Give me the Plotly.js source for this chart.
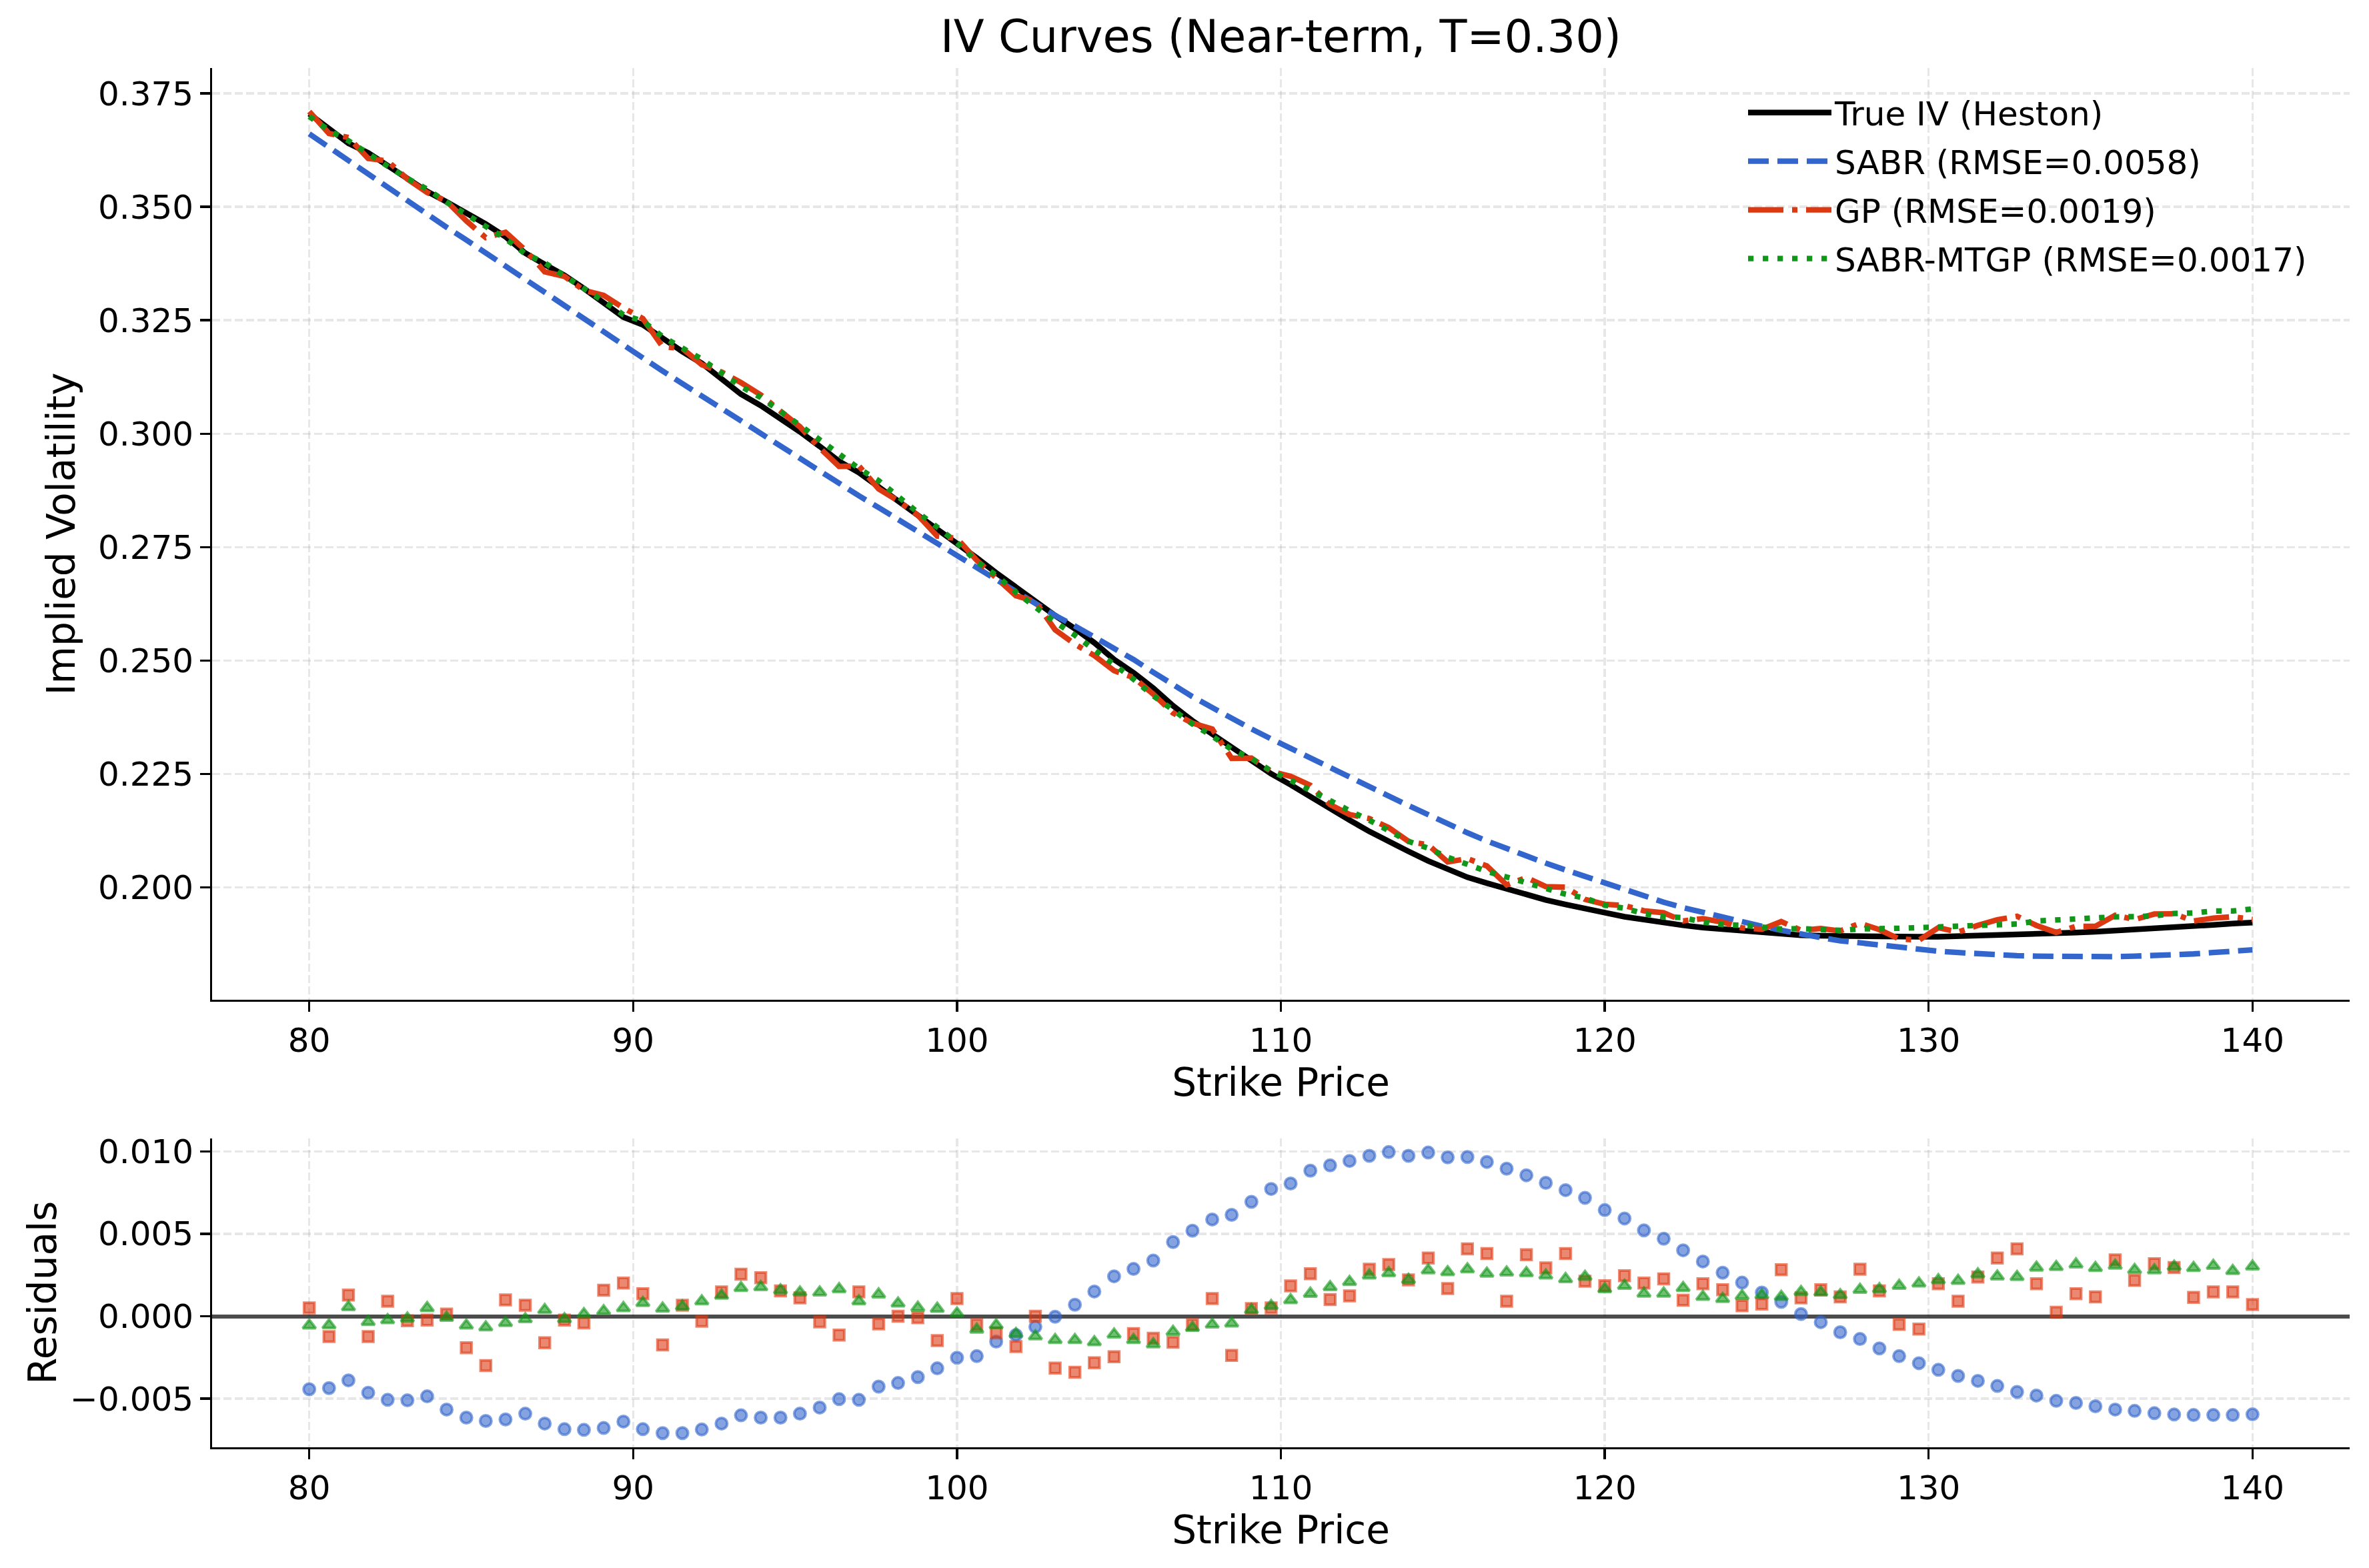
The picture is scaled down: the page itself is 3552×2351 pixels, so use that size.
<!DOCTYPE html>
<html>
<head>
<meta charset="utf-8">
<script src="https://cdn.plot.ly/plotly-3.0.1.min.js"></script>
<style>
  html, body { margin: 0; padding: 0; background: #ffffff; }
  #chart { width: 3552px; height: 2351px; }
</style>
</head>
<body>
<div id="chart"></div>
<script>
// Strike grid (100 evenly spaced strikes from 80 to 140)
const strikes = [
  80.00, 80.61, 81.21, 81.82, 82.42, 83.03, 83.64, 84.24, 84.85, 85.45,
  86.06, 86.67, 87.27, 87.88, 88.48, 89.09, 89.70, 90.30, 90.91, 91.52,
  92.12, 92.73, 93.33, 93.94, 94.55, 95.15, 95.76, 96.36, 96.97, 97.58,
  98.18, 98.79, 99.39, 100.00, 100.61, 101.21, 101.82, 102.42, 103.03, 103.64,
  104.24, 104.85, 105.45, 106.06, 106.67, 107.27, 107.88, 108.48, 109.09, 109.70,
  110.30, 110.91, 111.52, 112.12, 112.73, 113.33, 113.94, 114.55, 115.15, 115.76,
  116.36, 116.97, 117.58, 118.18, 118.79, 119.39, 120.00, 120.61, 121.21, 121.82,
  122.42, 123.03, 123.64, 124.24, 124.85, 125.45, 126.06, 126.67, 127.27, 127.88,
  128.48, 129.09, 129.70, 130.30, 130.91, 131.52, 132.12, 132.73, 133.33, 133.94,
  134.55, 135.15, 135.76, 136.36, 136.97, 137.58, 138.18, 138.79, 139.39, 140.00
];

// Heston reference implied volatility
const trueIV = [
  0.3705, 0.3674, 0.3640, 0.3619, 0.3592, 0.3564, 0.3534, 0.3511, 0.3488, 0.3462,
  0.3434, 0.3398, 0.3373, 0.3349, 0.3320, 0.3289, 0.3257, 0.3240, 0.3209, 0.3181,
  0.3155, 0.3121, 0.3087, 0.3062, 0.3034, 0.3004, 0.2972, 0.2939, 0.2914, 0.2883,
  0.2852, 0.2821, 0.2789, 0.2758, 0.2726, 0.2693, 0.2661, 0.2630, 0.2599, 0.2570,
  0.2539, 0.2502, 0.2473, 0.2439, 0.2400, 0.2367, 0.2338, 0.2308, 0.2280, 0.2250,
  0.2226, 0.2199, 0.2172, 0.2148, 0.2123, 0.2100, 0.2079, 0.2058, 0.2039, 0.2022,
  0.2009, 0.1996, 0.1984, 0.1972, 0.1962, 0.1952, 0.1944, 0.1935, 0.1928, 0.1921,
  0.1916, 0.1911, 0.1907, 0.1904, 0.1900, 0.1896, 0.1894, 0.1893, 0.1892, 0.1892,
  0.1891, 0.1891, 0.1891, 0.1891, 0.1892, 0.1892, 0.1893, 0.1895, 0.1896, 0.1898,
  0.1900, 0.1902, 0.1904, 0.1907, 0.1909, 0.1912, 0.1914, 0.1917, 0.1920, 0.1922
];

// SABR fitted smile
const sabrIV = [
  0.3661, 0.3631, 0.3601, 0.3572, 0.3542, 0.3513, 0.3484, 0.3455, 0.3427, 0.3398,
  0.3370, 0.3341, 0.3312, 0.3282, 0.3253, 0.3224, 0.3195, 0.3167, 0.3138, 0.3110,
  0.3083, 0.3055, 0.3027, 0.3000, 0.2972, 0.2945, 0.2917, 0.2890, 0.2863, 0.2837,
  0.2811, 0.2785, 0.2758, 0.2732, 0.2705, 0.2678, 0.2651, 0.2625, 0.2599, 0.2576,
  0.2552, 0.2527, 0.2502, 0.2474, 0.2446, 0.2420, 0.2396, 0.2372, 0.2349, 0.2327,
  0.2306, 0.2286, 0.2264, 0.2242, 0.2220, 0.2200, 0.2180, 0.2160, 0.2139, 0.2120,
  0.2102, 0.2085, 0.2069, 0.2053, 0.2038, 0.2024, 0.2009, 0.1994, 0.1980, 0.1967,
  0.1955, 0.1944, 0.1933, 0.1923, 0.1914, 0.1905, 0.1896, 0.1889, 0.1882, 0.1877,
  0.1872, 0.1867, 0.1863, 0.1859, 0.1856, 0.1853, 0.1851, 0.1849, 0.1848, 0.1847,
  0.1847, 0.1847, 0.1847, 0.1848, 0.1849, 0.1851, 0.1853, 0.1856, 0.1859, 0.1862
];

// Residuals (model IV minus true IV)
const resSABR = [
  -0.00443, -0.00436, -0.00389, -0.00464, -0.00507, -0.00510, -0.00486, -0.00566, -0.00615, -0.00635,
  -0.00626, -0.00591, -0.00651, -0.00685, -0.00689, -0.00678, -0.00639, -0.00685, -0.00709, -0.00709,
  -0.00687, -0.00651, -0.00601, -0.00615, -0.00615, -0.00591, -0.00554, -0.00503, -0.00507, -0.00427,
  -0.00405, -0.00369, -0.00316, -0.00252, -0.00242, -0.00154, -0.00114, -0.00064, -0.00003, 0.00070,
  0.00150, 0.00242, 0.00287, 0.00338, 0.00450, 0.00519, 0.00587, 0.00615, 0.00694, 0.00772,
  0.00805, 0.00883, 0.00915, 0.00942, 0.00973, 0.00996, 0.00973, 0.00993, 0.00964, 0.00966,
  0.00936, 0.00895, 0.00855, 0.00809, 0.00765, 0.00718, 0.00644, 0.00593, 0.00521, 0.00470,
  0.00400, 0.00332, 0.00264, 0.00204, 0.00144, 0.00087, 0.00013, -0.00036, -0.00097, -0.00138,
  -0.00195, -0.00242, -0.00285, -0.00325, -0.00362, -0.00392, -0.00423, -0.00459, -0.00481, -0.00513,
  -0.00526, -0.00546, -0.00566, -0.00574, -0.00588, -0.00596, -0.00599, -0.00599, -0.00599, -0.00595
];

const resGP = [
  0.00051, -0.00123, 0.00128, -0.00123, 0.00091, -0.00027, -0.00023, 0.00013, -0.00191, -0.00299,
  0.00099, 0.00067, -0.00161, -0.00023, -0.00040, 0.00158, 0.00201, 0.00137, -0.00174, 0.00067,
  -0.00030, 0.00148, 0.00255, 0.00234, 0.00154, 0.00111, -0.00034, -0.00114, 0.00148, -0.00047,
  0.00000, -0.00009, -0.00148, 0.00107, -0.00051, -0.00101, -0.00184, 0.00000, -0.00315, -0.00340,
  -0.00282, -0.00246, -0.00105, -0.00134, -0.00158, -0.00051, 0.00107, -0.00238, 0.00047, 0.00051,
  0.00184, 0.00258, 0.00101, 0.00123, 0.00285, 0.00314, 0.00221, 0.00353, 0.00168, 0.00409,
  0.00380, 0.00091, 0.00373, 0.00293, 0.00380, 0.00212, 0.00185, 0.00246, 0.00201, 0.00227,
  0.00097, 0.00197, 0.00161, 0.00064, 0.00074, 0.00282, 0.00111, 0.00161, 0.00117, 0.00285,
  0.00154, -0.00050, -0.00078, 0.00197, 0.00091, 0.00238, 0.00353, 0.00409, 0.00197, 0.00024,
  0.00137, 0.00117, 0.00342, 0.00217, 0.00319, 0.00295, 0.00114, 0.00148, 0.00148, 0.00071
];

const resMTGP = [
  -0.00056, -0.00054, 0.00056, -0.00034, -0.00023, -0.00013, 0.00050, -0.00009, -0.00056, -0.00067,
  -0.00040, -0.00017, 0.00038, -0.00017, 0.00013, 0.00031, 0.00050, 0.00081, 0.00047, 0.00060,
  0.00091, 0.00125, 0.00172, 0.00177, 0.00158, 0.00145, 0.00145, 0.00165, 0.00091, 0.00133,
  0.00078, 0.00052, 0.00046, 0.00017, -0.00081, -0.00054, -0.00107, -0.00121, -0.00144, -0.00144,
  -0.00157, -0.00110, -0.00144, -0.00170, -0.00094, -0.00070, -0.00050, -0.00043, 0.00038, 0.00063,
  0.00098, 0.00137, 0.00177, 0.00208, 0.00248, 0.00262, 0.00221, 0.00279, 0.00268, 0.00285,
  0.00259, 0.00266, 0.00262, 0.00248, 0.00226, 0.00240, 0.00165, 0.00185, 0.00138, 0.00138,
  0.00172, 0.00118, 0.00105, 0.00123, 0.00128, 0.00118, 0.00148, 0.00145, 0.00128, 0.00161,
  0.00165, 0.00185, 0.00199, 0.00219, 0.00215, 0.00255, 0.00242, 0.00239, 0.00295, 0.00299,
  0.00315, 0.00293, 0.00307, 0.00281, 0.00279, 0.00301, 0.00293, 0.00306, 0.00275, 0.00302
];

const seriesNames = [
  'True IV (Heston)',
  'SABR (RMSE=0.0058)',
  'GP (RMSE=0.0019)',
  'SABR-MTGP (RMSE=0.0017)'
];

// GP and SABR-MTGP curves are the reference IV plus their residuals
const gpIV = trueIV.map((v, i) => v + resGP[i]);
const mtgpIV = trueIV.map((v, i) => v + resMTGP[i]);

const BLUE = '#3366CC', RED = '#DC3912', GREEN = '#109618';
const BLUE_A = 'rgba(51,102,204,0.6)', RED_A = 'rgba(220,57,18,0.6)', GREEN_A = 'rgba(16,150,24,0.6)';

const traces = [
  { x: strikes, y: trueIV, name: seriesNames[0], mode: 'lines', legendgroup: 'a',
    line: { color: '#000000', width: 8.5 }, xaxis: 'x', yaxis: 'y' },
  { x: strikes, y: sabrIV, name: seriesNames[1], mode: 'lines', legendgroup: 'b',
    line: { color: BLUE, width: 8.3, dash: '31px,13px' }, xaxis: 'x', yaxis: 'y' },
  { x: strikes, y: gpIV, name: seriesNames[2], mode: 'lines', legendgroup: 'c',
    line: { color: RED, width: 8.3, dash: '53px,13px,8px,13px' }, xaxis: 'x', yaxis: 'y' },
  { x: strikes, y: mtgpIV, name: seriesNames[3], mode: 'lines', legendgroup: 'd',
    line: { color: GREEN, width: 8.3, dash: '8.3px,13.7px' }, xaxis: 'x', yaxis: 'y' },

  { x: strikes, y: resSABR, mode: 'markers', showlegend: false, xaxis: 'x2', yaxis: 'y2',
    marker: { symbol: 'circle', size: 17, color: BLUE_A, line: { color: BLUE_A, width: 4 } } },
  { x: strikes, y: resGP, mode: 'markers', showlegend: false, xaxis: 'x2', yaxis: 'y2',
    marker: { symbol: 'square', size: 15.5, color: RED_A, line: { color: RED_A, width: 4 } } },
  { x: strikes, y: resMTGP, mode: 'markers', showlegend: false, xaxis: 'x2', yaxis: 'y2',
    marker: { symbol: 'triangle-up', size: 17, color: GREEN_A, line: { color: GREEN_A, width: 4 } } }
];

const gridStyle = {
  showgrid: true, gridcolor: 'rgba(176,176,176,0.3)', gridwidth: 3.3, griddash: '12px,5px',
  showline: true, linecolor: '#000000', linewidth: 3.3, mirror: false,
  ticks: 'outside', ticklen: 14.6, tickwidth: 3.3, tickcolor: '#000000',
  tickfont: { size: 50, color: '#000000' }, zeroline: false
};

const xTicks = [80, 90, 100, 110, 120, 130, 140];

const layout = {
  width: 3552, height: 2351,
  margin: { l: 318, r: 29, t: 102, b: 181 },
  paper_bgcolor: '#ffffff', plot_bgcolor: '#ffffff',
  font: { family: 'DejaVu Sans, sans-serif', size: 50, color: '#000000' },
  title: { text: 'IV Curves (Near-term, T=0.30)', font: { size: 67 },
           x: 0.5, xref: 'paper', xanchor: 'center', y: 0.9766, yref: 'container', yanchor: 'middle' },
  showlegend: true,
  legend: { x: 0.717, y: 0.9866, xanchor: 'left', yanchor: 'top', bgcolor: 'rgba(255,255,255,0)',
            borderwidth: 0, font: { size: 50 }, itemwidth: 125, tracegroupgap: 5 },
  xaxis: Object.assign({}, gridStyle, { domain: [0, 1], anchor: 'y', range: [77, 143],
           tickvals: xTicks, title: { text: 'Strike Price', font: { size: 58 }, standoff: 13 } }),
  yaxis: Object.assign({}, gridStyle, { domain: [0.3245, 1], anchor: 'x', range: [0.1752, 0.3806],
           tick0: 0.2, dtick: 0.025, tickformat: '.3f',
           title: { text: 'Implied Volatility', font: { size: 58 }, standoff: 16 } }),
  xaxis2: Object.assign({}, gridStyle, { domain: [0, 1], anchor: 'y2', range: [77, 143],
           tickvals: xTicks, title: { text: 'Strike Price', font: { size: 58 }, standoff: 13 } }),
  yaxis2: Object.assign({}, gridStyle, { domain: [0, 0.2241], anchor: 'x2', range: [-0.00795, 0.0108],
           tick0: 0, dtick: 0.005, tickformat: '.3f',
           zeroline: true, zerolinecolor: 'rgba(0,0,0,0.7)', zerolinewidth: 6,
           title: { text: 'Residuals', font: { size: 58 }, standoff: 2 } })
};

Plotly.newPlot('chart', traces, layout, { staticPlot: true, displayModeBar: false });
</script>
</body>
</html>
